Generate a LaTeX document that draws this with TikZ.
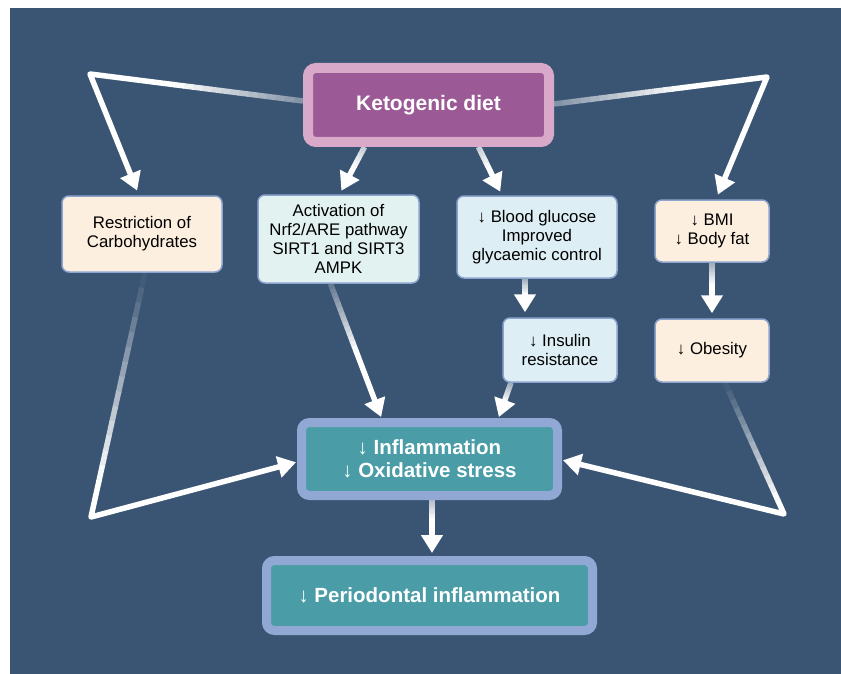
\documentclass[tikz,border=0pt]{standalone}
\usepackage{fontspec}
\setmainfont{Liberation Sans}
\usetikzlibrary{arrows.meta,calc}
\definecolor{bgc}{RGB}{58,85,115}
\definecolor{ketoOut}{RGB}{216,169,201}
\definecolor{ketoIn}{RGB}{155,90,150}
\definecolor{cream}{RGB}{253,239,223}
\definecolor{actfill}{RGB}{226,242,240}
\definecolor{bluefill}{RGB}{221,238,245}
\definecolor{bordc}{RGB}{141,164,207}
\definecolor{inflOut}{RGB}{146,168,212}
\definecolor{inflIn}{RGB}{74,157,166}
\pgfdeclarelayer{back}
\pgfdeclarelayer{conn}
\pgfsetlayers{back,conn,main}
\tikzset{
  conn/.style={line width=5.5pt, draw=white},
  tipA/.style={-{Triangle[length=18pt,width=21pt]}, line join=round},
  smallbox/.style={rectangle, rounded corners=7pt, draw=bordc, line width=1.5pt,
    text=black, align=center, inner sep=0pt, font=\fontsize{16.8}{19}\selectfont},
  bigbox/.style={rectangle, rounded corners=8pt, line width=9pt, text=white,
    align=center, inner sep=0pt, font=\bfseries\fontsize{20.5}{23}\selectfont}
}
\newcommand\fadeconn[6]{%
  \foreach \k in {1,...,14}{%
    \pgfmathsetmacro\fA{(\k-1)/14*#4}%
    \pgfmathsetmacro\fB{\k/14*#4+0.004}%
    \pgfmathsetmacro\pcW{#3+(100-#3)*(\k-0.5)/14}%
    \draw[conn,draw=white!\pcW!bgc] ($(#1)!\fA!(#2)$) -- ($(#1)!\fB!(#2)$);
  }%
  \draw[conn,#5] ($(#1)!#4!(#2)$) -- (#2) #6;
}
\begin{document}
\begin{tikzpicture}[x=1pt,y=-1pt]
\useasboundingbox (0,0) rectangle (841,674);
\begin{pgfonlayer}{back}
\fill[white] (0,0) rectangle (841,674);
\fill[bgc] (10,8) rectangle (841,674);
\end{pgfonlayer}

% nodes
\node[bigbox, draw=ketoOut, fill=ketoIn, line width=10pt, minimum width=241pt, minimum height=74pt,
  font=\bfseries\fontsize{21}{25}\selectfont] (keto) at (428.5,105) {Ketogenic diet};
\node[smallbox, fill=cream, minimum width=160pt, minimum height=76pt] (restr) at (142,234) {Restriction of\\Carbohydrates};
\node[smallbox, fill=actfill, minimum width=161pt, minimum height=88pt] (act) at (338.5,239) {Activation of\\Nrf2/ARE pathway\\SIRT1 and SIRT3\\AMPK};
\node[smallbox, fill=bluefill, minimum width=160pt, minimum height=82pt] (blood) at (537,237) {↓ Blood glucose\\Improved\\glycaemic control};
\node[smallbox, fill=cream, minimum width=114pt, minimum height=62pt] (bmi) at (712,231) {↓ BMI\\↓ Body fat};
\node[smallbox, fill=bluefill, minimum width=114pt, minimum height=64pt] (ins) at (560,350) {↓ Insulin\\resistance};
\node[smallbox, fill=cream, minimum width=114pt, minimum height=63pt] (obes) at (712,350.5) {↓ Obesity};
\node[bigbox, draw=inflOut, fill=inflIn, minimum width=256pt, minimum height=73pt] (infl) at (429.5,459) {↓ Inflammation\\↓ Oxidative stress};
\node[bigbox, draw=inflOut, fill=inflIn, minimum width=326pt, minimum height=70pt] (perio) at (429.5,595.5) {↓ Periodontal inflammation};

% coordinates
\coordinate (c1) at (90,74);
\coordinate (c2) at (767,77);
\coordinate (c3) at (91,517);
\coordinate (c4) at (784,514);
\coordinate (k1) at ($(keto.west)+(0,-4)$);
\coordinate (k2) at ($(keto.south)+(-64,0)$);
\coordinate (k3) at ($(keto.south)+(50,0)$);
\coordinate (k4) at ($(keto.east)+(0,-1)$);
\coordinate (r1) at ($(restr.south)+(3,0)$);
\coordinate (a1) at ($(act.south)+(-8,0)$);
\coordinate (b1) at ($(blood.south)+(-12,0)$);
\coordinate (i1) at ($(ins.south)+(-49,0)$);
\coordinate (m1) at (bmi.south);
\coordinate (o1) at ($(obes.south)+(13,0)$);
\coordinate (f1) at ($(infl.south)+(2.5,0)$);
\coordinate (e1) at ($(restr.north)+(-3,0)$);
\coordinate (e2) at ($(act.north)+(1,0)$);
\coordinate (e3) at ($(blood.north)+(-35,0)$);
\coordinate (e4) at ($(bmi.north)+(4,0)$);
\coordinate (e5) at ($(infl.west)+(0,3)$);
\coordinate (e6) at ($(infl.north)+(-48,0)$);
\coordinate (e7) at ($(ins.north)+(-35,0)$);
\coordinate (e8) at ($(infl.north)+(69,0)$);
\coordinate (e9) at (obes.north);
\coordinate (e10) at ($(infl.east)+(0,1)$);
\coordinate (e11) at ($(perio.north)+(2.5,0)$);

\begin{pgfonlayer}{conn}
\fadeconn{k1}{c1}{35}{0.6}{tipA,shorten >=5pt}{-- (e1)}
\fadeconn{k2}{e2}{70}{0.4}{tipA,shorten >=4pt}{}
\fadeconn{k3}{e3}{70}{0.4}{tipA,shorten >=4pt}{}
\fadeconn{k4}{c2}{35}{0.6}{tipA,shorten >=5pt}{-- (e4)}
\fadeconn{r1}{c3}{0}{0.85}{tipA,shorten >=1pt}{-- (e5)}
\fadeconn{a1}{e6}{20}{0.5}{tipA,shorten >=1pt}{}
\fadeconn{b1}{e7}{50}{0.4}{tipA,shorten >=5pt}{}
\fadeconn{i1}{e8}{50}{0.5}{tipA,shorten >=1pt}{}
\fadeconn{m1}{e9}{50}{0.4}{tipA,shorten >=5pt}{}
\fadeconn{o1}{c4}{0}{0.9}{tipA,shorten >=1pt}{-- (e10)}
\fadeconn{f1}{e11}{60}{0.35}{tipA,shorten >=3pt}{}
\end{pgfonlayer}
\end{tikzpicture}
\end{document}
